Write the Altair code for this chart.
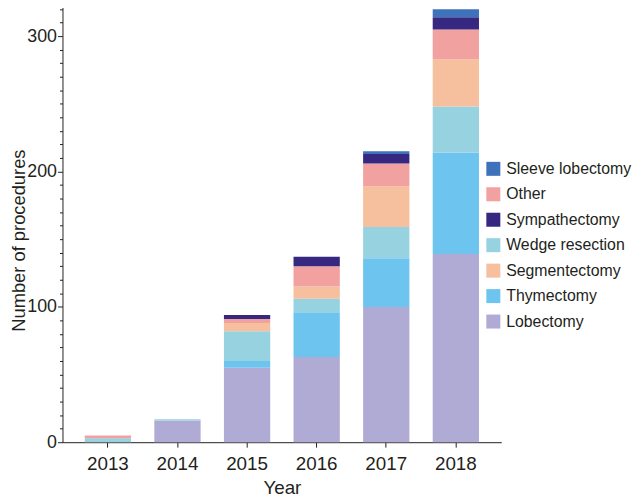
import altair as alt
import pandas as pd

years = ["2013", "2014", "2015", "2016", "2017", "2018"]

lobectomy = [0, 16, 55, 63, 100, 139]
thymectomy = [0, 0, 5, 33, 36, 75]
wedge_resection = [3, 1, 22, 10, 23, 34]
segmentectomy = [0, 0, 6, 9, 30, 35]
other = [2, 0, 3, 15, 17, 22]
sympathectomy = [0, 0, 3, 7, 7, 9]
sleeve_lobectomy = [0, 0, 0, 0, 2, 6]

stack_order = ["Lobectomy", "Thymectomy", "Wedge resection", "Segmentectomy",
               "Other", "Sympathectomy", "Sleeve lobectomy"]
series = [lobectomy, thymectomy, wedge_resection, segmentectomy,
          other, sympathectomy, sleeve_lobectomy]

legend_order = ["Sleeve lobectomy", "Other", "Sympathectomy", "Wedge resection",
                "Segmentectomy", "Thymectomy", "Lobectomy"]
legend_colors = ["#3e72bb", "#f1a1a0", "#362880", "#97d2e1",
                 "#f6bf9e", "#6dc5ef", "#b0abd5"]

y_tick_values = list(range(0, 330, 10))

rows = []
for i, (name, vals) in enumerate(zip(stack_order, series)):
    for yr, v in zip(years, vals):
        rows.append({"Year": yr, "Procedure": name, "Count": v, "stack": i})
df = pd.DataFrame(rows)

FONT = "Liberation Sans"
INK = "#231f20"

chart = alt.Chart(df).mark_bar().encode(
    x=alt.X(
        "Year:N", sort=years,
        scale=alt.Scale(paddingInner=0.335, paddingOuter=0.32),
        axis=alt.Axis(
            title="Year", labelAngle=0, tickSize=5, tickColor=INK, domainColor=INK,
            labelFont=FONT, labelFontSize=19, labelColor=INK, labelPadding=8,
            titleFont=FONT, titleFontSize=19, titleFontWeight="normal", titleColor=INK,
            titleY=52, titleBaseline="alphabetic", grid=False,
        ),
    ),
    y=alt.Y(
        "Count:Q", stack="zero",
        scale=alt.Scale(domain=[0, 325], nice=False),
        axis=alt.Axis(
            title="Number of procedures", values=y_tick_values,
            labelExpr="datum.value % 100 === 0 ? datum.label : ''",
            tickSize={"condition": {"test": "datum.value % 100 === 0", "value": 5}, "value": 3},
            tickColor=INK, domainColor=INK, grid=False,
            labelFont=FONT, labelFontSize=18, labelColor=INK, labelPadding=1,
            titleFont=FONT, titleFontSize=18.5, titleFontWeight="normal", titleColor=INK,
            titleX=-34, titleY=240,
        ),
    ),
    color=alt.Color(
        "Procedure:N",
        scale=alt.Scale(domain=legend_order, range=legend_colors),
        legend=alt.Legend(
            title=None, orient="none", legendX=427, legendY=160,
            symbolType="square", symbolSize=200, symbolStrokeWidth=0, symbolOpacity=1,
            labelFont=FONT, labelFontSize=16, labelColor=INK, labelOffset=5,
            rowPadding=9.7, padding=0, labelLimit=300,
        ),
    ),
    order=alt.Order("stack:Q", sort="ascending"),
).properties(
    width=443, height=444,
    autosize=alt.AutoSizeParams(type="none"),
    padding={"left": 55, "top": -8, "right": 132, "bottom": 57},
).configure_view(stroke=None)

chart.save("out.html", embed_options={"renderer": "svg", "actions": False})
